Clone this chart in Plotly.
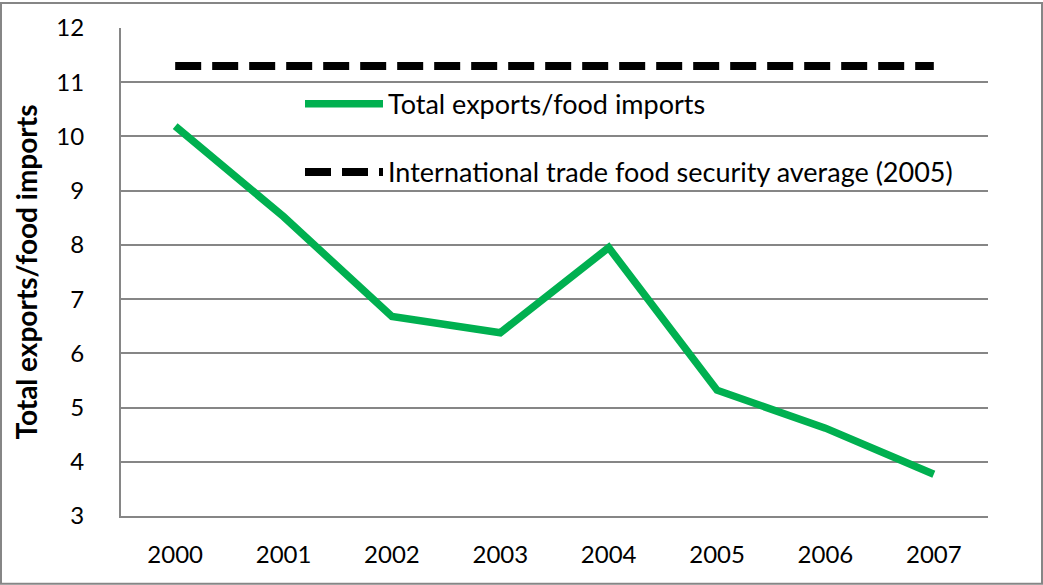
import plotly.graph_objects as go

years = ["2000", "2001", "2002", "2003", "2004", "2005", "2006", "2007"]
ratio = [10.19, 8.52, 6.68, 6.38, 7.95, 5.32, 4.62, 3.77]
avg_2005 = [11.3] * 8
y_ticks = [3, 4, 5, 6, 7, 8, 9, 10, 11, 12]

W, H = 1043, 585
L, R, T, B = 121, 55, 26, 69
pw, ph = W - L - R, H - T - B
FONT = "Lato"

fig = go.Figure()
fig.add_trace(go.Scatter(
    x=years, y=ratio, mode="lines", name="Total exports/food imports",
    line=dict(color="#00B050", width=7.5), legendgroup="a",
))
fig.add_trace(go.Scatter(
    x=years, y=avg_2005, mode="lines",
    name="International trade food security average (2005)",
    line=dict(color="black", width=8, dash="26px,11px"), legendgroup="b",
))

fig.update_layout(
    width=W, height=H,
    margin=dict(l=L, r=R, t=T, b=B),
    paper_bgcolor="white", plot_bgcolor="white",
    font=dict(family=FONT, color="black", size=24),
    showlegend=True,
    legend=dict(
        x=(300 - L) / pw, y=1 - (78 - T) / ph, xanchor="left", yanchor="top",
        bgcolor="rgba(0,0,0,0)", font=dict(size=27, family=FONT),
        itemwidth=78, tracegroupgap=30, traceorder="grouped",
    ),
    xaxis=dict(
        type="category", range=[-0.5, 7.5], showgrid=False, showline=True,
        linecolor="#868686", linewidth=2, ticks="", tickfont=dict(size=24),
        ticklabelstandoff=16,
    ),
    yaxis=dict(
        range=[3, 12], tickvals=y_ticks, showgrid=True, gridcolor="#868686",
        gridwidth=2, showline=True, linecolor="#868686", linewidth=2,
        ticks="", tickfont=dict(size=24), ticklabelstandoff=30, zeroline=False,
        title=dict(text="<b>Total exports/food imports</b>", font=dict(size=28), standoff=11),
    ),
    shapes=[dict(
        type="rect", xref="paper", yref="paper",
        x0=(1 - L) / pw, x1=(W - 1 - L) / pw,
        y0=-(B - 1) / ph, y1=1 + (T - 1) / ph,
        line=dict(color="#868686", width=2), fillcolor="rgba(0,0,0,0)", layer="below",
    )],
)

fig.write_html("out.html")
